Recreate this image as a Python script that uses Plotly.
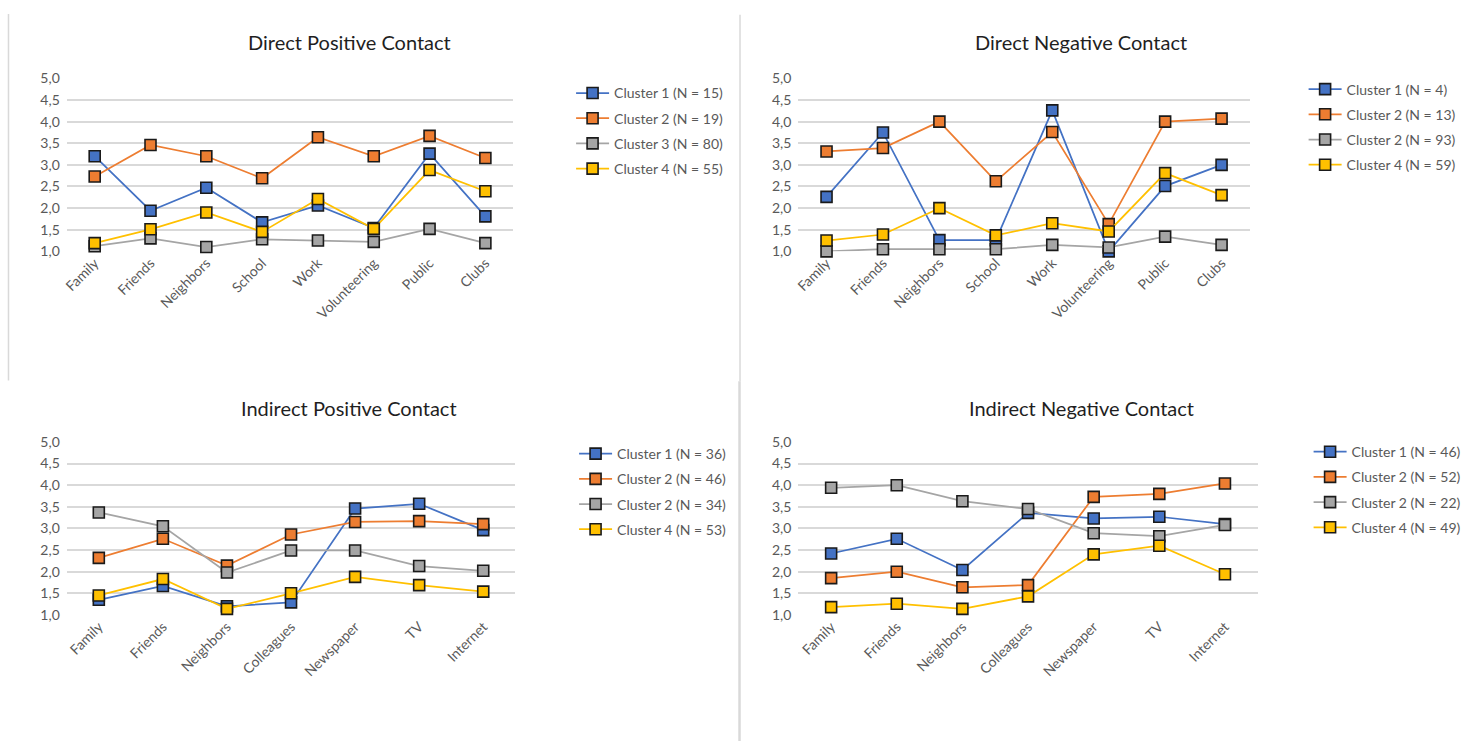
import plotly.graph_objects as go

# ---- data -------------------------------------------------------------
direct_cats = ["Family", "Friends", "Neighbors", "School", "Work",
               "Volunteering", "Public", "Clubs"]
indirect_cats = ["Family", "Friends", "Neighbors", "Colleagues",
                 "Newspaper", "TV", "Internet"]

dp_names = ["Cluster 1 (N = 15)", "Cluster 2 (N = 19)",
            "Cluster 3 (N = 80)", "Cluster 4 (N = 55)"]
dp_c1 = [3.20, 1.94, 2.47, 1.67, 2.06, 1.54, 3.26, 1.81]
dp_c2 = [2.73, 3.46, 3.20, 2.69, 3.64, 3.20, 3.67, 3.16]
dp_c3 = [1.12, 1.30, 1.10, 1.28, 1.25, 1.22, 1.52, 1.19]
dp_c4 = [1.19, 1.51, 1.90, 1.45, 2.21, 1.52, 2.88, 2.39]

dn_names = ["Cluster 1 (N = 4)", "Cluster 2 (N = 13)",
            "Cluster 2 (N = 93)", "Cluster 4 (N = 59)"]
dn_c1 = [2.26, 3.75, 1.26, 1.26, 4.26, 1.00, 2.51, 3.00]
dn_c2 = [3.31, 3.39, 4.00, 2.62, 3.76, 1.63, 4.00, 4.07]
dn_c3 = [1.00, 1.05, 1.05, 1.05, 1.15, 1.09, 1.34, 1.15]
dn_c4 = [1.25, 1.39, 2.00, 1.37, 1.65, 1.46, 2.81, 2.30]

ip_names = ["Cluster 1 (N = 36)", "Cluster 2 (N = 46)",
            "Cluster 2 (N = 34)", "Cluster 4 (N = 53)"]
ip_c1 = [1.35, 1.67, 1.20, 1.29, 3.46, 3.57, 2.96]
ip_c2 = [2.32, 2.76, 2.14, 2.86, 3.15, 3.17, 3.10]
ip_c3 = [3.37, 3.05, 1.98, 2.49, 2.49, 2.13, 2.02]
ip_c4 = [1.45, 1.83, 1.14, 1.50, 1.88, 1.69, 1.54]

in_names = ["Cluster 1 (N = 46)", "Cluster 2 (N = 52)",
            "Cluster 2 (N = 22)", "Cluster 4 (N = 49)"]
in_c1 = [2.42, 2.76, 2.04, 3.36, 3.23, 3.27, 3.10]
in_c2 = [1.85, 2.00, 1.64, 1.69, 3.73, 3.80, 4.04]
in_c3 = [3.94, 4.00, 3.63, 3.45, 2.89, 2.82, 3.08]
in_c4 = [1.18, 1.26, 1.14, 1.43, 2.40, 2.60, 1.94]

y_ticks = [1.0, 1.5, 2.0, 2.5, 3.0, 3.5, 4.0, 4.5, 5.0]

# ---- styling ----------------------------------------------------------
W, H = 1483, 749
FONT = "Lato"
COLORS = ["#4472C4", "#ED7D31", "#A5A5A5", "#FFC000"]
GRID = "#D9D9D9"
TEXT = "#595959"


# layout positions below are in pixels; convert to paper units
def px_x(v):
    return v / W


def px_y(v):
    return 1 - v / H


panels = [
    dict(title="Direct Positive Contact", cats=direct_cats, names=dp_names,
         series=[dp_c1, dp_c2, dp_c3, dp_c4],
         box=(62, 510, 71, 248), title_xy=(346, 34), legend_xy=(568, 70)),
    dict(title="Direct Negative Contact", cats=direct_cats, names=dn_names,
         series=[dn_c1, dn_c2, dn_c3, dn_c4],
         box=(796, 1249, 71, 248), title_xy=(1080, 34), legend_xy=(1303, 66)),
    dict(title="Indirect Positive Contact", cats=indirect_cats, names=ip_names,
         series=[ip_c1, ip_c2, ip_c3, ip_c4],
         box=(62, 512, 443, 620), title_xy=(345, 408), legend_xy=(571, 439)),
    dict(title="Indirect Negative Contact", cats=indirect_cats, names=in_names,
         series=[in_c1, in_c2, in_c3, in_c4],
         box=(796, 1257, 443, 620), title_xy=(1080, 408), legend_xy=(1308, 437)),
]

fig = go.Figure()
annotations = []
layout_axes = {}

for i, p in enumerate(panels):
    k = "" if i == 0 else str(i + 1)
    xa, ya = "x" + k, "y" + k
    leg = "legend" + k
    for j, (name, vals) in enumerate(zip(p["names"], p["series"])):
        fig.add_trace(go.Scatter(
            x=p["cats"], y=vals, name=name, mode="lines+markers",
            xaxis=xa, yaxis=ya, legend=leg, legendgroup=f"p{i}s{j}",
            cliponaxis=False,
            line=dict(color=COLORS[j], width=1.75),
            marker=dict(symbol="square", size=11, color=COLORS[j],
                        line=dict(color="#1a1a1a", width=1.6)),
        ))
    x0, x1, y0, y1 = p["box"]
    n = len(p["cats"])
    layout_axes["xaxis" + k] = dict(
        domain=[px_x(x0), px_x(x1)], anchor=ya, type="category",
        range=[-0.5, n - 0.5], showgrid=False, zeroline=False,
        showline=False, ticks="", tickangle=-45,
        tickfont=dict(family=FONT, size=14, color=TEXT),
    )
    layout_axes["yaxis" + k] = dict(
        domain=[px_y(y1), px_y(y0)], anchor=xa, range=[1, 5],
        tickvals=y_ticks, tickformat=".1f", showgrid=True, gridcolor=GRID,
        gridwidth=1.5, zeroline=False, showline=False, ticks="",
        ticklabelstandoff=6,
        tickfont=dict(family=FONT, size=14, color=TEXT),
    )
    lx, ly = p["legend_xy"]
    layout_axes[leg] = dict(
        x=px_x(lx), y=px_y(ly), xanchor="left", yanchor="top",
        bgcolor="rgba(0,0,0,0)", borderwidth=0, traceorder="grouped",
        tracegroupgap=4, itemwidth=33,
        font=dict(family=FONT, size=14, color=TEXT),
    )
    tx, ty = p["title_xy"]
    annotations.append(dict(
        text=p["title"], x=px_x(tx), y=px_y(ty), xref="paper", yref="paper",
        xanchor="center", yanchor="middle", showarrow=False,
        font=dict(family=FONT, size=20, color="#1f1f1f"),
    ))

# thin separators between the chart panels
sep = dict(type="line", xref="paper", yref="paper",
           line=dict(color="#D9D9D9", width=1.5))
shapes = [
    dict(sep, x0=px_x(3.5), x1=px_x(3.5), y0=px_y(5), y1=px_y(380)),
    dict(sep, x0=px_x(737.5), x1=px_x(737.5), y0=px_y(6), y1=px_y(381)),
    dict(sep, x0=px_x(737), x1=px_x(737), y0=px_y(381), y1=px_y(749),
         line=dict(color="#D9D9D9", width=2.5)),
]

fig.update_layout(
    width=W, height=H, margin=dict(l=0, r=0, t=0, b=0),
    paper_bgcolor="white", plot_bgcolor="white",
    separators=", ", showlegend=True,
    annotations=annotations, shapes=shapes,
    font=dict(family=FONT, color=TEXT),
    **layout_axes,
)

fig.write_html("out.html")
